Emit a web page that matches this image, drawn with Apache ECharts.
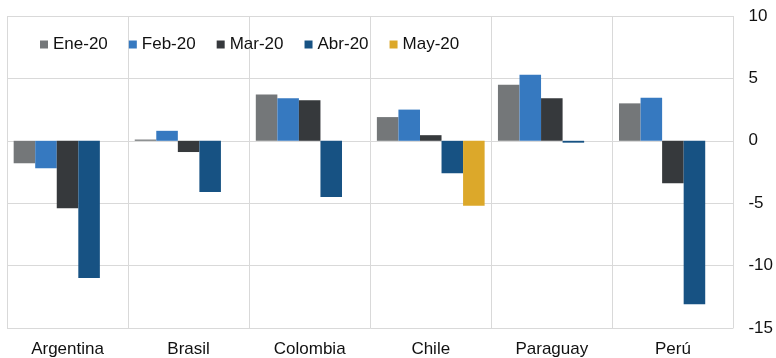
<!DOCTYPE html>
<html>
<head>
<meta charset="utf-8">
<script src="https://cdn.jsdelivr.net/npm/echarts@6/dist/echarts.min.js"></script>
<style>html,body{margin:0;padding:0;background:#fff;}#c{width:776px;height:358px;}</style>
</head>
<body>
<div id="c"></div>
<script>
const categories = ['Argentina', 'Brasil', 'Colombia', 'Chile', 'Paraguay', 'Perú'];
const seriesNames = ['Ene-20', 'Feb-20', 'Mar-20', 'Abr-20', 'May-20'];
const ene20 = [-1.8, 0.1, 3.7, 1.9, 4.5, 3.0];
const feb20 = [-2.2, 0.8, 3.4, 2.5, 5.3, 3.45];
const mar20 = [-5.4, -0.9, 3.25, 0.45, 3.4, -3.4];
const abr20 = [-11.0, -4.1, -4.5, -2.6, -0.15, -13.1];
const may20 = [null, null, null, -5.2, null, null];
const yTicks = { min: -15, max: 10, interval: 5 };
const colors = ['#747779', '#3679c0', '#36393c', '#175283', '#dca82a'];

const values = [ene20, feb20, mar20, abr20, may20];
const chart = echarts.init(document.getElementById('c'));
chart.setOption({
  animation: false,
  color: colors,
  textStyle: { fontFamily: 'Liberation Sans, Arial, sans-serif' },
  grid: { left: 7, right: 42, top: 16, bottom: 29 },
  legend: {
    left: 35, top: 31,
    icon: 'rect', itemWidth: 8, itemHeight: 8, itemGap: 21,
    textStyle: { fontSize: 17, color: '#111', fontFamily: 'Liberation Sans, Arial, sans-serif' },
    data: seriesNames
  },
  xAxis: {
    type: 'category',
    data: categories,
    axisLine: { show: false },
    axisTick: { show: false },
    axisLabel: { fontSize: 17, color: '#111', margin: 13, interval: 0 },
    splitLine: { show: true, interval: 0, lineStyle: { color: '#d9d9d9', width: 1 } }
  },
  yAxis: {
    type: 'value',
    position: 'right',
    min: yTicks.min, max: yTicks.max, interval: yTicks.interval,
    axisLine: { show: false },
    axisTick: { show: false },
    axisLabel: { fontSize: 17, color: '#111', margin: 15 },
    splitLine: { show: true, lineStyle: { color: '#d9d9d9', width: 1 } }
  },
  series: seriesNames.map((n, i) => ({
    name: n,
    type: 'bar',
    data: values[i],
    barGap: '0%',
    barCategoryGap: '11%'
  }))
});
</script>
</body>
</html>
